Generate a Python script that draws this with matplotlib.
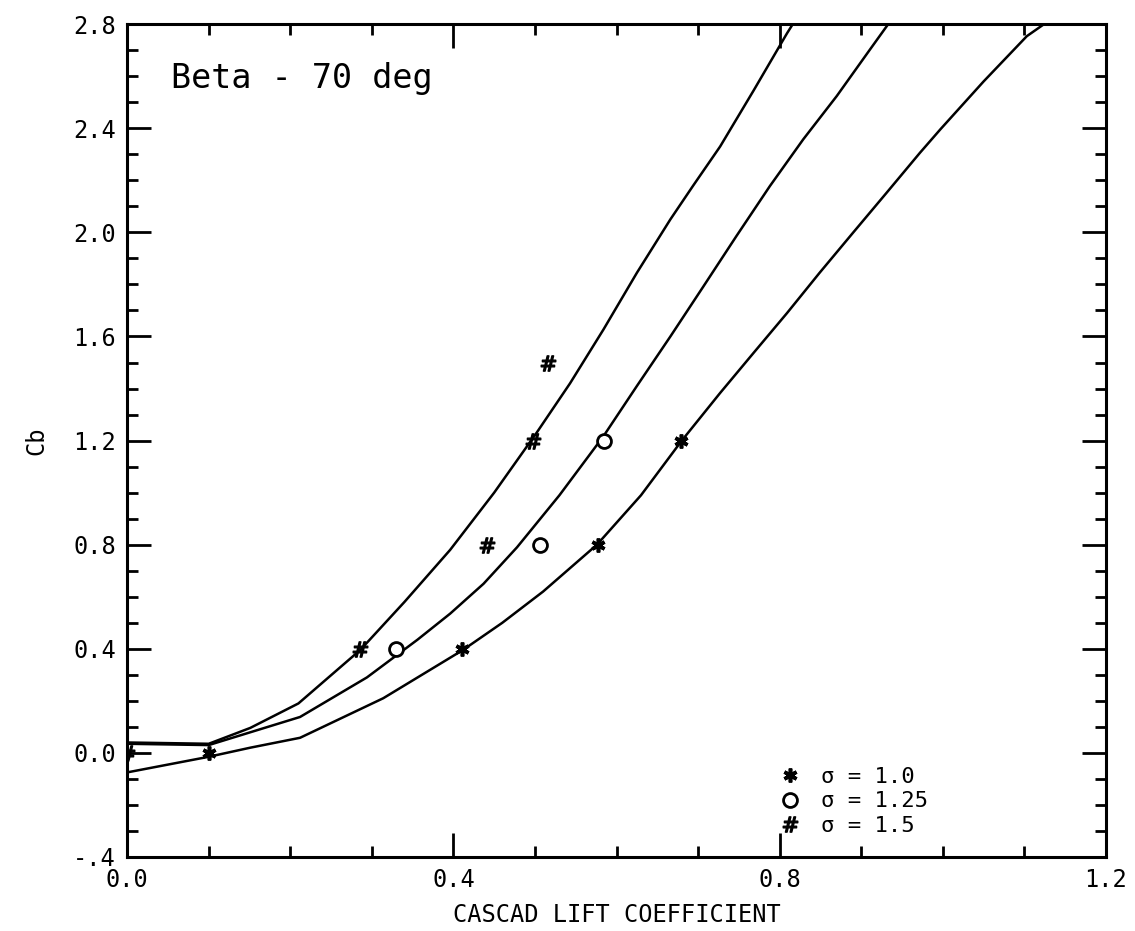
import numpy as np
import matplotlib
matplotlib.use('Agg')
import matplotlib.pyplot as plt
from matplotlib.ticker import MultipleLocator

plt.rcParams['font.family'] = ['DejaVu Sans Mono', 'DejaVu Sans']

# solidity curves, Cb vs cascade lift coefficient
cl_s10 = [0.0, 0.1, 0.151, 0.212, 0.314, 0.412, 0.46, 0.51, 0.576, 0.63,
          0.68, 0.727, 0.768, 0.809, 0.849, 0.89, 0.931, 0.972, 0.997,
          1.05, 1.103, 1.124]
cb_s10 = [-0.075, -0.015, 0.02, 0.058, 0.21, 0.396, 0.50, 0.62, 0.80, 0.99,
          1.2, 1.383, 1.537, 1.69, 1.845, 1.999, 2.152, 2.306, 2.396,
          2.58, 2.754, 2.8]

cl_s125 = [0.0, 0.1, 0.212, 0.294, 0.356, 0.396, 0.437, 0.478, 0.53, 0.584,
           0.625, 0.666, 0.706, 0.747, 0.788, 0.829, 0.87, 0.911, 0.933]
cb_s125 = [0.035, 0.03, 0.138, 0.29, 0.435, 0.535, 0.65, 0.79, 0.99, 1.217,
           1.41, 1.60, 1.79, 1.986, 2.178, 2.358, 2.524, 2.704, 2.8]

cl_s15 = [0.0, 0.1, 0.151, 0.21, 0.286, 0.34, 0.396, 0.45, 0.502, 0.543,
          0.584, 0.625, 0.666, 0.694, 0.727, 0.768, 0.809, 0.816]
cb_s15 = [0.04, 0.035, 0.096, 0.19, 0.396, 0.58, 0.78, 1.0, 1.23, 1.42,
          1.627, 1.845, 2.05, 2.18, 2.33, 2.545, 2.765, 2.8]

# measured points
pts_s10_x = [0.1, 0.41, 0.577, 0.679]
pts_s10_y = [0.0, 0.4, 0.8, 1.2]
pts_s125_x = [0.33, 0.506, 0.585]
pts_s125_y = [0.4, 0.8, 1.2]
pts_s15_x = [0.0, 0.285, 0.441, 0.498, 0.516]
pts_s15_y = [0.0, 0.4, 0.8, 1.2, 1.5]

xticks = [0.0, 0.4, 0.8, 1.2]
xlabels = ['0.0', '0.4', '0.8', '1.2']
yticks = [-0.4, 0.0, 0.4, 0.8, 1.2, 1.6, 2.0, 2.4, 2.8]
ylabels = ['-.4', '0.0', '0.4', '0.8', '1.2', '1.6', '2.0', '2.4', '2.8']


def main():
    fig = plt.figure(figsize=(11.35, 9.31), dpi=100)
    ax = fig.add_axes([0.112, 0.0795, 0.8624, 0.8945])

    for xs, ys in [(cl_s10, cb_s10), (cl_s125, cb_s125), (cl_s15, cb_s15)]:
        ax.plot(xs, ys, color='black', lw=1.8)

    h1, = ax.plot(pts_s10_x, pts_s10_y, ls='none', marker=(6, 2, 0),
                  ms=10, mew=2.6, color='black', label='\u03c3 = 1.0')
    h2, = ax.plot(pts_s125_x, pts_s125_y, ls='none', marker='o', ms=10,
                  mew=2.0, mfc='white', mec='black', label='\u03c3 = 1.25')
    h3, = ax.plot(pts_s15_x, pts_s15_y, ls='none', marker=r'$\#$', ms=11,
                  color='black', label='\u03c3 = 1.5')

    ax.set_xlim(0, 1.2)
    ax.set_ylim(-0.4, 2.8)
    ax.set_xticks(xticks)
    ax.set_xticklabels(xlabels)
    ax.set_yticks(yticks)
    ax.set_yticklabels(ylabels)
    ax.xaxis.set_minor_locator(MultipleLocator(0.1))
    ax.yaxis.set_minor_locator(MultipleLocator(0.1))
    ax.tick_params(which='both', direction='in', top=True, right=True,
                   width=2.0, labelsize=17, pad=8)
    ax.tick_params(which='major', length=17)
    ax.tick_params(which='minor', length=8)
    for sp in ax.spines.values():
        sp.set_linewidth(2.2)

    ax.set_xlabel('CASCAD LIFT COEFFICIENT', fontsize=17, labelpad=8)
    ax.set_ylabel('Cb', fontsize=17, labelpad=18)

    ax.text(0.045, 0.935, 'Beta - 70 deg', transform=ax.transAxes,
            fontsize=24, va='center', ha='left')

    ax.legend(handles=[h1, h2, h3], loc='lower right', frameon=False,
              fontsize=16, bbox_to_anchor=(0.83, 0.012), handlelength=0.6,
              handletextpad=1.1, labelspacing=0.2, borderpad=0)

    fig.savefig('out.png', dpi=100)


if __name__ == '__main__':
    main()
